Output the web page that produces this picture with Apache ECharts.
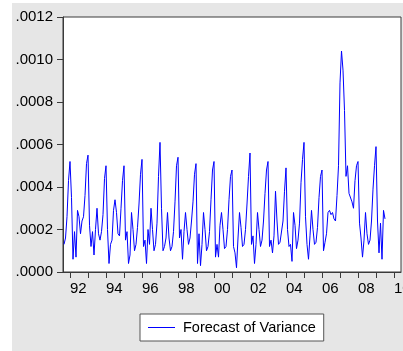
<!DOCTYPE html>
<html>
<head>
<meta charset="utf-8">
<script src="https://cdn.jsdelivr.net/npm/echarts@6/dist/echarts.min.js"></script>
<style>
html,body{margin:0;padding:0;background:#ffffff;}
#chart{width:403px;height:351px;}
</style>
</head>
<body>
<div id="chart"></div>
<script>
// ---- data ----
const seriesName = 'Forecast of Variance';
const startYear = 1991;
const startMonth = 9; // first observation: 1991M09 (monthly)
const variance = [
  0.00013,0.00016,0.00026,0.00043,0.00052,0.00035,0.00006,0.00019,0.00007,0.00029,0.00026,0.00018,
  0.00024,0.00026,0.00036,0.00051,0.00055,0.00022,0.00012,0.00019,0.00008,0.00020,0.00030,0.00018,
  0.00015,0.00019,0.00027,0.00044,0.00050,0.00020,0.00004,0.00013,0.00015,0.00029,0.00034,0.00028,
  0.00018,0.00017,0.00030,0.00043,0.00050,0.00015,0.00019,0.00004,0.00008,0.00028,0.00020,0.00010,
  0.00013,0.00021,0.00032,0.00046,0.00053,0.00012,0.00015,0.00004,0.00020,0.00013,0.00030,0.00020,
  0.00010,0.00013,0.00023,0.00045,0.00061,0.00030,0.00010,0.00012,0.00016,0.00028,0.00016,0.00010,
  0.00012,0.00019,0.00033,0.00050,0.00054,0.00016,0.00020,0.00006,0.00019,0.00028,0.00020,0.00013,
  0.00016,0.00024,0.00033,0.00046,0.00051,0.00004,0.00018,0.00003,0.00013,0.00028,0.00020,0.00010,
  0.00012,0.00019,0.00034,0.00048,0.00052,0.00007,0.00013,0.00007,0.00022,0.00028,0.00020,0.00011,
  0.00012,0.00020,0.00034,0.00045,0.00048,0.00012,0.00009,0.00002,0.00016,0.00028,0.00021,0.00012,
  0.00013,0.00020,0.00032,0.00045,0.00056,0.00013,0.00017,0.00004,0.00013,0.00028,0.00020,0.00012,
  0.00015,0.00024,0.00037,0.00048,0.00052,0.00012,0.00015,0.00009,0.00017,0.00038,0.00024,0.00013,
  0.00014,0.00014,0.00024,0.00038,0.00049,0.00020,0.00012,0.00013,0.00005,0.00028,0.00022,0.00011,
  0.00015,0.00023,0.00042,0.00053,0.00061,0.00026,0.00013,0.00006,0.00017,0.00029,0.00020,0.00013,
  0.00014,0.00021,0.00035,0.00045,0.00048,0.00010,0.00014,0.00018,0.00028,0.00029,0.00027,0.00028,
  0.00025,0.00024,0.00036,0.00050,0.00089,0.00104,0.00095,0.00076,0.00045,0.00050,0.00037,0.00037,
  0.00033,0.00030,0.00043,0.00050,0.00052,0.00023,0.00016,0.00007,0.00015,0.00028,0.00018,0.00013,
  0.00015,0.00024,0.00039,0.00050,0.00059,0.00024,0.00009,0.00023,0.00006,0.00029,0.00025
];
const yearTicks = [1992,1993,1994,1995,1996,1997,1998,1999,2000,2001,2002,2003,2004,2005,2006,2007,2008,2009,2010];
const yearLabels = [1992,1994,1996,1998,2000,2002,2004,2006,2008,2010];
const yMin = 0, yMax = 0.0012, yStep = 0.0002;

// observation dates as fractional years (monthly)
const dates = variance.map((_, i) => startYear + (startMonth - 1 + i) / 12);

const FONT = '"Liberation Sans", Arial, sans-serif';
const chart = echarts.init(document.getElementById('chart'), null, {renderer: 'canvas'});
chart.setOption({
  animation: false,
  backgroundColor: 'transparent',
  graphic: {
    elements: [{
      type: 'rect', silent: true, z: -100,
      shape: {x: 12, y: 3, width: 391, height: 348},
      style: {fill: '#e6e6e6'}
    }]
  },
  grid: {
    left: 63, top: 17, width: 338, height: 255,
    show: true, backgroundColor: '#ffffff', borderColor: '#3a3a3a', borderWidth: 1,
    containLabel: false,
    outerBoundsMode: 'none'
  },
  legend: {
    left: 140, top: 314,
    padding: [6, 8, 6, 8],
    backgroundColor: '#ffffff', borderColor: '#555555', borderWidth: 1, borderRadius: 0,
    itemWidth: 27, itemHeight: 1,
    textStyle: {fontFamily: FONT, fontSize: 14.5, color: '#000000', padding: [0, 0, 0, 3]},
    data: [{name: seriesName, icon: 'rect', itemStyle: {color: '#0000ff', borderWidth: 0}}]
  },
  xAxis: {
    type: 'value',
    min: 1992 - 7 / 18, max: 1992 + 331 / 18,
    splitLine: {show: false},
    axisLine: {show: true, onZero: false, lineStyle: {color: '#3a3a3a', width: 1}},
    axisTick: {show: true, length: 6, customValues: yearTicks, lineStyle: {color: '#3a3a3a'}},
    axisLabel: {
      customValues: yearLabels,
      align: 'left', margin: 9,
      fontFamily: FONT, fontSize: 15, color: '#000000',
      formatter: v => String(Math.round(v) % 100).padStart(2, '0')
    }
  },
  yAxis: {
    type: 'value',
    min: yMin, max: yMax, interval: yStep,
    splitLine: {show: false},
    axisLine: {show: true, lineStyle: {color: '#3a3a3a', width: 1}},
    axisTick: {show: true, length: 6, lineStyle: {color: '#3a3a3a'}},
    axisLabel: {
      margin: 10, fontFamily: FONT, fontSize: 15, color: '#000000',
      formatter: v => v.toFixed(4).replace(/^0/, '')
    }
  },
  series: [{
    name: seriesName,
    type: 'line',
    symbol: 'none',
    lineStyle: {color: '#0000ff', width: 1},
    itemStyle: {color: '#0000ff'},
    data: dates.map((t, i) => [t, variance[i]])
  }]
});
</script>
</body>
</html>
